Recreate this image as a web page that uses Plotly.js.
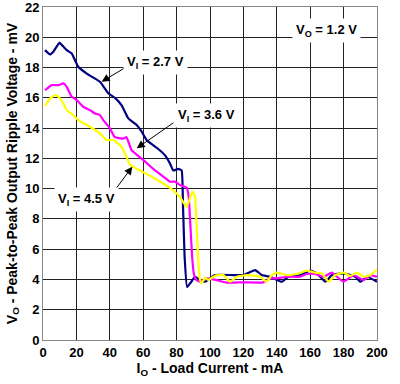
<!DOCTYPE html>
<html>
<head>
<meta charset="utf-8">
<script src="https://cdn.plot.ly/plotly-3.0.1.min.js"></script>
<style>html,body{margin:0;padding:0;background:#fff;}#chart{width:400px;height:384px;}</style>
</head>
<body>
<div id="chart"></div>
<script>
// Series: V_I = 2.7 V
const x27 = [1.2, 4.2, 6.2, 9.8, 11.2, 14.2, 17.2, 21.1, 26.2, 34.1, 39.1, 43.1, 47.1, 51.1, 56.1, 59.1, 62.1, 68.1, 73.1, 76, 78, 81, 83, 83.8, 84.8, 86.3, 88.5, 91, 94, 97, 103, 114, 120, 127, 131, 136, 143, 147, 154, 160, 164, 169, 173, 180, 187, 190, 194, 200];
const y27 = [19.15, 18.87, 19.05, 19.64, 19.5, 19.15, 18.93, 18.05, 17.6, 17.06, 16.3, 16.0, 15.5, 14.64, 14.2, 13.76, 13.2, 12.7, 12.2, 11.67, 11.2, 11.3, 11.2, 9.0, 5.5, 3.5, 3.8, 4.18, 3.96, 3.85, 4.29, 4.29, 4.29, 4.62, 4.29, 4.18, 3.85, 4.18, 4.29, 4.58, 4.40, 3.85, 4.29, 4.40, 4.18, 3.85, 4.18, 3.85];
// Series: V_I = 3.6 V
const x36 = [1.2, 5.2, 9.2, 12.2, 14.2, 17.2, 20.2, 24.1, 28.1, 31.1, 34.1, 36.1, 40, 43, 48, 50, 53, 60, 66, 72, 76, 79, 82, 86, 87.2, 88.3, 89.3, 90.3, 91.6, 94, 98, 104, 110, 120, 132, 136, 140, 146, 154, 158, 163, 168, 173, 176, 180, 186, 192, 196, 200];
const y36 = [16.5, 16.84, 16.84, 16.95, 16.73, 16.07, 15.85, 15.41, 15.19, 14.97, 14.86, 14.53, 14.0, 13.4, 13.3, 13.4, 12.55, 11.9, 11.3, 10.8, 10.46, 10.46, 10.24, 10.08, 9.5, 7.5, 5.5, 4.4, 4.0, 3.85, 4.07, 3.96, 3.79, 3.81, 3.81, 4.07, 4.07, 4.18, 4.18, 4.36, 4.36, 4.18, 4.45, 4.18, 3.85, 4.29, 3.96, 4.29, 4.18];
// Series: V_I = 4.5 V
const x45 = [1.2, 4.2, 7.2, 9.2, 12.2, 14.2, 18.1, 21.1, 28.1, 34.1, 38.1, 42.1, 47, 50, 52, 58, 65, 70, 75, 80, 82, 84, 86, 87.5, 89.5, 91, 92, 93, 94, 95, 97, 99, 103, 108, 112, 116, 122, 130, 134, 137, 140, 146, 152, 158, 163, 167, 171, 175, 180, 184, 188, 192, 196, 200];
const y45 = [15.46, 15.96, 16.18, 16.07, 15.63, 15.19, 14.86, 14.53, 14.09, 13.65, 13.21, 13.21, 12.77, 12.1, 11.6, 11.2, 10.8, 10.46, 10.13, 9.68, 9.47, 9.1, 8.8, 9.2, 9.8, 9.47, 7.5, 5.2, 4.0, 3.75, 4.1, 3.96, 4.25, 4.29, 3.85, 4.18, 4.29, 4.18, 3.85, 4.29, 4.45, 4.29, 4.36, 4.58, 4.45, 4.40, 3.85, 4.29, 4.45, 4.23, 4.45, 4.18, 4.29, 4.67];

const seriesNames = ['V<sub>I</sub> = 2.7 V', 'V<sub>I</sub> = 3.6 V', 'V<sub>I</sub> = 4.5 V'];
const seriesColors = ['#000080', '#ff00ff', '#ffff00'];
const xTickVals = [0, 20, 40, 60, 80, 100, 120, 140, 160, 180, 200];
const yTickVals = [0, 2, 4, 6, 8, 10, 12, 14, 16, 18, 20, 22];

const FONT = 'Liberation Sans, Arial, Helvetica, sans-serif';
const xs = [x27, x36, x45], ys = [y27, y36, y45];
const traces = xs.map((x, i) => ({
  x: x, y: ys[i], type: 'scatter', mode: 'lines', name: seriesNames[i],
  line: {color: seriesColors[i], width: 2.2, shape: 'spline', smoothing: 0.4},
  hoverinfo: 'skip'
}));
const lblFont = {family: FONT, size: 13, color: '#000'};
function label(text, x, y) {
  return {text: '<b>' + text + '</b>', x: x, y: y, xref: 'x', yref: 'y', showarrow: false,
    bgcolor: '#fff', borderpad: 3, font: lblFont};
}
function arrow(tx, ty, hx, hy) {
  return {text: ' ', x: hx, y: hy, ax: tx, ay: ty, xref: 'x', yref: 'y', axref: 'x', ayref: 'y',
    showarrow: true, arrowhead: 2, arrowsize: 1.6, arrowwidth: 1, arrowcolor: '#000', standoff: 0,
    font: {size: 1}};
}
const bold = v => '<b>' + v + '</b>';
const tickFont = {family: FONT, size: 13, color: '#000'};
const layout = {
  width: 400, height: 384,
  margin: {l: 43, r: 23, t: 7, b: 44},
  paper_bgcolor: '#fff', plot_bgcolor: '#fff',
  showlegend: false,
  font: {family: FONT, color: '#000'},
  xaxis: {
    range: [0, 200], tickmode: 'array', tickvals: xTickVals, ticktext: xTickVals.map(bold),
    showgrid: true, gridcolor: '#222', gridwidth: 1,
    zeroline: false, showline: true, linecolor: '#888', linewidth: 1, mirror: true,
    ticks: '', tickfont: tickFont, ticklabeloverflow: 'allow',
    title: {text: '<b>I<sub>O</sub> - Load Current - mA</b>', font: {family: FONT, size: 14, color: '#000'}, standoff: 4}
  },
  yaxis: {
    range: [0, 22], tickmode: 'array', tickvals: yTickVals, ticktext: yTickVals.map(bold),
    showgrid: true, gridcolor: '#222', gridwidth: 1,
    zeroline: false, showline: true, linecolor: '#888', linewidth: 1, mirror: true,
    ticks: '', tickfont: tickFont, ticklabeloverflow: 'allow',
    title: {text: '<b>V<sub>O</sub> - Peak-to-Peak Output Ripple Voltage - mV</b>', font: {family: FONT, size: 14, color: '#000'}, standoff: 4}
  },
  annotations: [
    arrow(50.1, 18.05, 35.1, 17.06),
    arrow(79, 14.42, 56.1, 12.66),
    arrow(41.3, 9.64, 53.5, 11.45),
    label(seriesNames[0], 67.1, 18.36),
    label(seriesNames[1], 98.2, 14.8),
    label(seriesNames[2], 26.3, 9.25),
    label('V<sub>O</sub> = 1.2 V', 169.8, 20.48)
  ]
};
Plotly.newPlot('chart', traces, layout, {staticPlot: true, displayModeBar: false});
</script>
</body>
</html>
